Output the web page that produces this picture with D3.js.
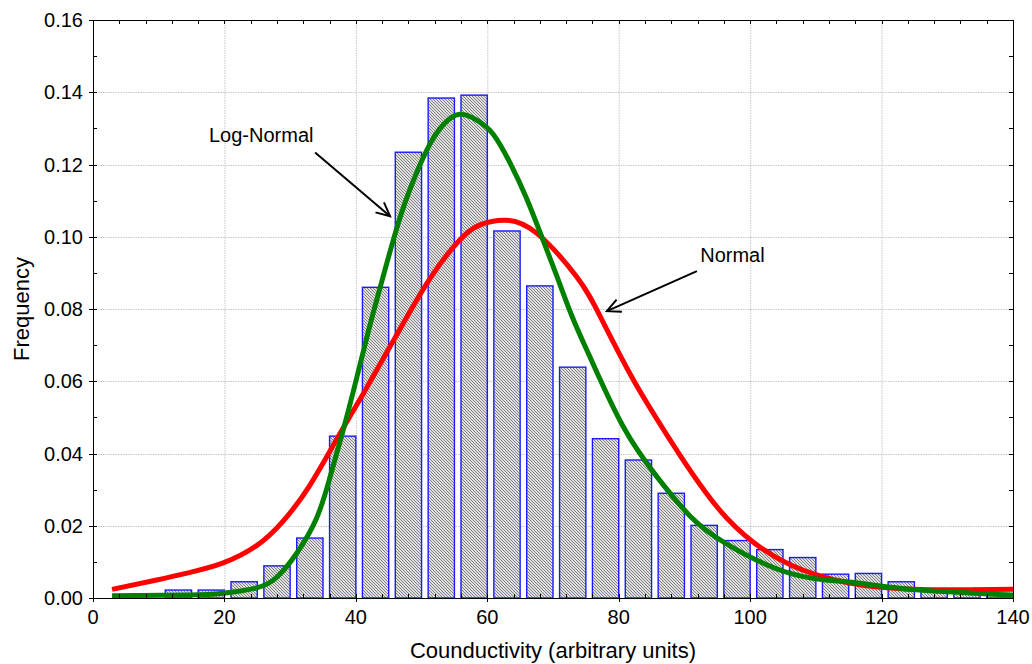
<!DOCTYPE html>
<html>
<head>
  <meta charset="utf-8">
  <script src="https://cdnjs.cloudflare.com/ajax/libs/d3/7.8.5/d3.min.js"></script>
  <style>
    body { margin: 0; background: #fff; }
    svg { display: block; font-family: "Liberation Sans", Arial, sans-serif; }
  </style>
</head>
<body>
<script>
// histogram bins (centre of bin, frequency)
var binCenters = [13, 18, 23, 28, 33, 38, 43, 48, 53, 58, 63, 68, 73, 78, 83, 88, 93, 98, 103, 108, 113, 118, 123, 128, 133, 138];
var binFreq = [0.0022, 0.0022, 0.0045, 0.0089, 0.0166, 0.0448, 0.0860, 0.1234, 0.1384, 0.1392, 0.1016, 0.0864, 0.0639,
  0.0441, 0.0382, 0.0290, 0.0201, 0.0159, 0.0134, 0.0112, 0.0066, 0.0068, 0.0045, 0.0020, 0.0016, 0.0012];
var binWidth = 4;

// fitted curves
var normalX = [2.9, 9.7, 14.8, 19.8, 24.9, 28.9, 33.0, 37.1, 41.1, 46.2, 51.3, 55.8, 58.9, 62.7, 67.5, 73.6, 77.2,
  82.2, 88.3, 96.4, 106.1, 114.7, 119.8, 127.4, 140];
var normalY = [0.0024, 0.0050, 0.0071, 0.0097, 0.0145, 0.0212, 0.0312, 0.0440, 0.0565, 0.0728, 0.0885, 0.0991, 0.1033,
  0.1046, 0.1010, 0.0889, 0.0779, 0.0605, 0.0424, 0.0222, 0.0092, 0.0043, 0.0030, 0.0023, 0.0024];

var logNormX = [2.9, 14.8, 19.8, 24.9, 28.0, 31.0, 34.0, 36.0, 38.0, 40.0, 42.0, 44.0, 46.0, 48.0, 50.8, 53.3, 55.8,
  58.4, 60.9, 63.5, 66.0, 68.5, 70.6, 73.0, 75.8, 80.7, 85.8, 90.8, 96.4, 106.1, 114.7, 119.8, 127.4, 140];
var logNormY = [0.0006, 0.0008, 0.0013, 0.0028, 0.0058, 0.0124, 0.0220, 0.0330, 0.0460, 0.0600, 0.0745, 0.0880, 0.1010,
  0.1120, 0.1240, 0.1310, 0.1339, 0.1323, 0.1284, 0.1203, 0.1105, 0.0990, 0.0890, 0.0775, 0.0660, 0.0474, 0.0336,
  0.0228, 0.0150, 0.0068, 0.0045, 0.0033, 0.0020, 0.0008];

var xTicks = [0, 20, 40, 60, 80, 100, 120, 140];
var yTicks = [0, 0.02, 0.04, 0.06, 0.08, 0.10, 0.12, 0.14, 0.16];

// annotations: label position and arrow (data units)
var annLabels = ["Log-Normal", "Normal"];
var annText = [[17.65, 0.1263], [92.4, 0.0931]];
var annFrom = [[33.8, 0.1233], [91.9, 0.0905]];
var annTo = [[45.2, 0.1057], [78.2, 0.0794]];

const W = 1032, H = 664;
const m = { left: 93, top: 20, right: 19, bottom: 66 };
const iw = W - m.left - m.right, ih = H - m.top - m.bottom;

var svg = d3.select("body").append("svg").attr("width", W).attr("height", H);

var defs = svg.append("defs");
var pat = defs.append("pattern").attr("id", "hatch").attr("patternUnits", "userSpaceOnUse")
  .attr("width", 3).attr("height", 3);
pat.append("rect").attr("width", 3).attr("height", 3).attr("fill", "#dedede");
pat.append("path").attr("d", "M-1,-1 L4,4 M-1,2 L1,4 M2,-1 L4,1")
  .attr("stroke", "#737373").attr("stroke-width", 0.85);

var x = d3.scaleLinear().domain([0, 140]).range([0, iw]);
var y = d3.scaleLinear().domain([0, 0.16]).range([ih, 0]);

var g = svg.append("g").attr("transform", "translate(" + m.left + "," + m.top + ")");

// grid
g.append("g").selectAll("line").data(xTicks.slice(1, -1)).enter().append("line")
  .attr("x1", d => x(d) + 0.5).attr("x2", d => x(d) + 0.5).attr("y1", 0).attr("y2", ih)
  .attr("stroke", "#c8c8c8").attr("stroke-dasharray", "1.5,1");
g.append("g").selectAll("line").data(yTicks.slice(1, -1)).enter().append("line")
  .attr("y1", d => Math.round(y(d)) + 0.5).attr("y2", d => Math.round(y(d)) + 0.5).attr("x1", 0).attr("x2", iw)
  .attr("stroke", "#c8c8c8").attr("stroke-dasharray", "1.5,1");

// bars
g.append("g").selectAll("rect").data(binCenters).enter().append("rect")
  .attr("x", d => x(d - binWidth / 2))
  .attr("width", x(binWidth) - x(0))
  .attr("y", (d, i) => y(binFreq[i]))
  .attr("height", (d, i) => ih - y(binFreq[i]))
  .attr("fill", "url(#hatch)")
  .attr("stroke", "#1a1aff")
  .attr("stroke-width", 1.4);

// curves
var line = d3.line().x(d => x(d[0])).y(d => y(d[1])).curve(d3.curveNatural);
g.append("path").datum(normalX.map((v, i) => [v, normalY[i]]))
  .attr("d", line).attr("fill", "none").attr("stroke", "#ff0000").attr("stroke-width", 5);
g.append("path").datum(logNormX.map((v, i) => [v, logNormY[i]]))
  .attr("d", line).attr("fill", "none").attr("stroke", "#008000").attr("stroke-width", 5);

// frame + ticks
g.append("rect").attr("x", 0.5).attr("y", 0.5).attr("width", iw).attr("height", ih)
  .attr("fill", "none").attr("stroke", "#000").attr("stroke-width", 1);

var minorX = d3.range(0, 141, 4);
var minorY = d3.range(0, 0.1601, 0.01);
var tk = g.append("g").attr("stroke", "#000").attr("stroke-width", 1);
minorX.forEach(function (v) {
  var px = Math.round(x(v)) + 0.5;
  tk.append("line").attr("x1", px).attr("x2", px).attr("y1", ih).attr("y2", ih - 4);
  tk.append("line").attr("x1", px).attr("x2", px).attr("y1", 0).attr("y2", 4);
});
xTicks.forEach(function (v) {
  var px = Math.round(x(v)) + 0.5;
  tk.append("line").attr("x1", px).attr("x2", px).attr("y1", ih + 4).attr("y2", ih - 4);
});
minorY.forEach(function (v) {
  var py = Math.round(y(v)) + 0.5;
  tk.append("line").attr("x1", 0).attr("x2", 4).attr("y1", py).attr("y2", py);
  tk.append("line").attr("x1", iw).attr("x2", iw - 4).attr("y1", py).attr("y2", py);
});
yTicks.forEach(function (v) {
  var py = Math.round(y(v)) + 0.5;
  tk.append("line").attr("x1", -4).attr("x2", 4).attr("y1", py).attr("y2", py);
});

// tick labels
g.append("g").selectAll("text").data(xTicks).enter().append("text")
  .attr("x", d => x(d)).attr("y", ih + 26).attr("text-anchor", "middle")
  .attr("font-size", "20px").attr("fill", "#000").text(d => d);
g.append("g").selectAll("text").data(yTicks).enter().append("text")
  .attr("x", -10).attr("y", d => y(d) + 7).attr("text-anchor", "end")
  .attr("font-size", "20px").attr("fill", "#000").text(d => d3.format(".2f")(d));

// axis titles
svg.append("text").attr("x", m.left + iw / 2).attr("y", 658).attr("text-anchor", "middle")
  .attr("font-size", "22px").text("Counductivity (arbitrary units)");
svg.append("text").attr("transform", "translate(29," + (m.top + ih / 2) + ") rotate(-90)")
  .attr("text-anchor", "middle").attr("font-size", "22px").text("Frequency");

// annotations
annLabels.forEach(function (lab, i) {
  g.append("text").attr("x", x(annText[i][0])).attr("y", y(annText[i][1]))
    .attr("font-size", "20px").text(lab);
  var x1 = x(annFrom[i][0]), y1 = y(annFrom[i][1]), x2 = x(annTo[i][0]), y2 = y(annTo[i][1]);
  var a = Math.atan2(y2 - y1, x2 - x1), L = 15, s = 0.45;
  g.append("line").attr("x1", x1).attr("y1", y1).attr("x2", x2).attr("y2", y2)
    .attr("stroke", "#000").attr("stroke-width", 2);
  g.append("path")
    .attr("d", "M" + (x2 - L * Math.cos(a - s)) + "," + (y2 - L * Math.sin(a - s)) +
      " L" + x2 + "," + y2 +
      " L" + (x2 - L * Math.cos(a + s)) + "," + (y2 - L * Math.sin(a + s)))
    .attr("fill", "none").attr("stroke", "#000").attr("stroke-width", 2);
});
</script>
</body>
</html>
